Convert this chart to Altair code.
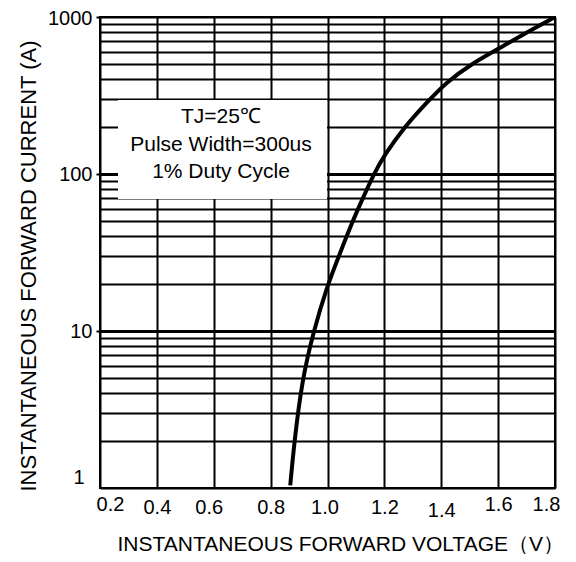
import altair as alt
import pandas as pd

# ---- data ----
voltage = [0.869, 0.883, 0.910, 0.951, 1.001, 1.034, 1.084, 1.122, 1.163,
           1.2, 1.272, 1.348, 1.416, 1.505, 1.6, 1.697, 1.8]
current = [1.04, 1.94, 4.82, 10, 19.8, 28.1, 48, 68.7, 100,
           132, 201, 284, 382, 501, 625, 793, 1000]

x_ticks = [0.2, 0.4, 0.6, 0.8, 1.0, 1.2, 1.4, 1.6, 1.8]
y_grid = [1, 2, 3, 4, 5, 6, 7, 8, 9,
          10, 20, 30, 40, 50, 60, 70, 80, 90,
          100, 200, 300, 400, 500, 600, 700, 800, 900, 1000]
y_labels = [1, 10, 100, 1000]
note_lines = ["TJ=25℃", "Pulse Width=300us", "1% Duty Cycle"]

x_title = "INSTANTANEOUS FORWARD VOLTAGE（V）"
y_title = "INSTANTANEOUS FORWARD CURRENT (A)"

curve_df = pd.DataFrame({"V": voltage, "I": current})
note_df = pd.DataFrame({"k": [0]})

FONT = "Liberation Sans"
major = "indexof([" + ", ".join(str(v) for v in y_labels) + "], datum.value) >= 0"

x_axis = alt.Axis(
    values=x_ticks, format=".1f",
    grid=True, gridColor="black", gridWidth=2, gridOpacity=1,
    domain=False, ticks=False,
    labelFont=FONT, labelFontSize=20, labelColor="black",
    labelFlush=False, labelOverlap=False, labelBound=False,
    labelPadding=alt.expr(
        "datum.value == 0.2 || datum.value == 1.6 || datum.value == 1.8 ? 6 : (datum.value == 1.4 ? 12 : 9)"),
    labelOffset=alt.expr(
        "datum.value == 0.2 ? 10 : (datum.value == 0.6 ? -5 : (datum.value == 1.0 ? -3 : (datum.value == 1.8 ? -9 : 0)))"),
    title=x_title, titleFont=FONT, titleFontSize=21, titleFontWeight="normal",
    titleColor="black", titleAlign="left", titleBaseline="middle",
    titleX=17, titleY=56,
)

y_axis = alt.Axis(
    values=y_grid, format="d",
    labelExpr=major + " ? datum.label : ''",
    grid=True, gridColor="black", gridOpacity=1,
    gridWidth=alt.expr("indexof([10, 100], datum.value) >= 0 ? 3 : 2"),
    domain=False, ticks=True, tickSize=4, tickColor="black", tickWidth=2,
    tickOpacity=alt.expr("indexof([10, 100, 1000], datum.value) >= 0 ? 1 : 0"),
    labelFont=FONT, labelFontSize=20, labelColor="black",
    labelPadding=alt.expr("datum.value == 1 ? 12 : 4"),
    labelOffset=alt.expr("datum.value == 1 ? -11 : (datum.value == 1000 ? 1 : 0)"),
    labelFlush=False, labelOverlap=False, labelBound=False,
    title=y_title, titleFont=FONT, titleFontSize=22, titleFontWeight="normal",
    titleColor="black", titleAngle=-90, titleAlign="left", titleBaseline="middle",
    titleX=-72, titleY=474,
)

x_enc = alt.X("V:Q", scale=alt.Scale(domain=[0.2, 1.8], nice=False, zero=False), axis=x_axis)
y_enc = alt.Y("I:Q", scale=alt.Scale(type="log", domain=[1, 1000], nice=False), axis=y_axis)

curve = alt.Chart(curve_df).mark_line(
    color="black", strokeWidth=4, interpolate="basis", clip=True
).encode(x=x_enc, y=y_enc)

box = alt.Chart(note_df).mark_rect(fill="white").encode(
    x=alt.value(18), x2=alt.value(227), y=alt.value(83), y2=alt.value(182)
)

note = alt.Chart(note_df).mark_text(
    font=FONT, fontSize=21, color="black", align="center", baseline="middle",
    lineHeight=27.5
).encode(x=alt.value(121), y=alt.value(100), text=alt.value(note_lines))

chart = alt.layer(curve, box, note).properties(
    width=455, height=471,
    autosize=alt.AutoSizeParams(type="none"),
    padding={"left": 92, "top": 9, "right": 13, "bottom": 66},
    background="white",
).configure_view(stroke="black", strokeWidth=2)

chart.save("out.html", embed_options={"renderer": "svg", "actions": False})
